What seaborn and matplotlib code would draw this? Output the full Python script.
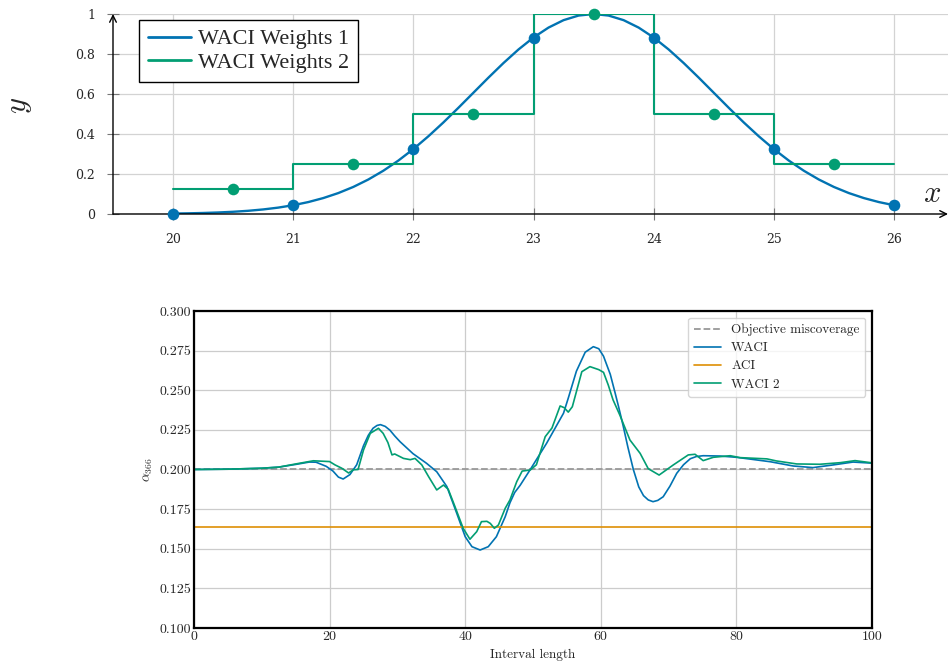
import numpy as np
import matplotlib
matplotlib.use("Agg")
import matplotlib.pyplot as plt
import seaborn as sns

# ---------------- upper panel: the two weighting schemes ----------------
weight_grid_x = np.linspace(20, 26, 49)
weights1_curve = [
    0.0022, 0.0034, 0.0051, 0.0076, 0.0111, 0.0160, 0.0228, 0.0319,
    0.0439, 0.0596, 0.0796, 0.1046, 0.1353, 0.1724, 0.2163, 0.2671,
    0.3247, 0.3886, 0.4578, 0.5311, 0.6065, 0.6819, 0.7548, 0.8226,
    0.8825, 0.9321, 0.9692, 0.9922, 1.0000, 0.9922, 0.9692, 0.9321,
    0.8825, 0.8226, 0.7548, 0.6819, 0.6065, 0.5311, 0.4578, 0.3886,
    0.3247, 0.2671, 0.2163, 0.1724, 0.1353, 0.1046, 0.0796, 0.0596,
    0.0439,
]
weights1_nodes_x = [20, 21, 22, 23, 24, 25, 26]
weights1_nodes_y = [0.0022, 0.0439, 0.3247, 0.8825, 0.8825, 0.3247, 0.0439]

weights2_edges = [20, 21, 22, 23, 24, 25, 26]
weights2_levels = [0.125, 0.25, 0.5, 1.0, 0.5, 0.25]
weights2_nodes_x = [20.5, 21.5, 22.5, 23.5, 24.5, 25.5]

upper_xticks = [20, 21, 22, 23, 24, 25, 26]
upper_yticks = [0, 0.2, 0.4, 0.6, 0.8, 1]
upper_yticklabels = ["0", "0.2", "0.4", "0.6", "0.8", "1"]

# ---------------- lower panel: alpha trajectories ----------------
objective_miscoverage = 0.200
aci_alpha = 0.164

waci_x = [0, 5, 10, 12.5, 15, 17, 18, 19.5, 20.5, 21.3, 22, 23, 24, 25,
          25.7, 26.4, 27.0, 27.5, 28.2, 28.9, 29.6, 30.4, 32.3, 34.3, 35.8,
          37.3, 38.7, 40.0, 41.0, 42.2, 43.4, 44.6, 45.9, 46.6, 47.3, 48.1,
          49.6, 52.0, 54.5, 55.2, 56.4, 57.7, 58.9, 59.7, 60.4, 61.4, 62.1,
          62.6, 63.3, 64.0, 64.8, 65.6, 66.3, 67.0, 67.7, 68.4, 69.2, 70.2,
          71.2, 72.2, 73.2, 74.1, 75.1, 77.6, 80.0, 85.0, 88.4, 91.3, 94.3,
          97.2, 100]
waci_alpha = [0.2000, 0.2002, 0.2008, 0.2015, 0.2032, 0.2047, 0.2046, 0.2020,
              0.1990, 0.1952, 0.1940, 0.1968, 0.2030, 0.2150, 0.2215, 0.2260,
              0.2278, 0.2283, 0.2272, 0.2248, 0.2212, 0.2175, 0.2100, 0.2039,
              0.1986, 0.1892, 0.1730, 0.1576, 0.1513, 0.1492, 0.1513, 0.1576,
              0.1702, 0.1790, 0.1855, 0.1900, 0.2000, 0.2165, 0.2355, 0.2450,
              0.2620, 0.2740, 0.2775, 0.2762, 0.2715, 0.2600, 0.2485, 0.2400,
              0.2275, 0.2140, 0.2000, 0.1890, 0.1835, 0.1808, 0.1797, 0.1805,
              0.1828, 0.1895, 0.1976, 0.2030, 0.2068, 0.2082, 0.2087, 0.2085,
              0.2077, 0.2049, 0.2022, 0.2012, 0.2029, 0.2047, 0.2040]

waci2_x = [0, 5, 10, 12.5, 15, 17.6, 20.0, 20.8, 21.8, 22.8, 23.5, 24.2, 25.0,
           26.0, 27.2, 27.9, 28.6, 29.2, 29.6, 30.9, 31.9, 32.6, 33.6, 34.6,
           35.8, 36.8, 37.5, 38.5, 39.7, 40.7, 41.7, 42.4, 43.2, 43.7, 44.3,
           44.9, 45.9, 46.6, 47.6, 48.4, 49.6, 50.5, 51.8, 52.8, 54.0, 54.6,
           55.2, 55.8, 57.2, 58.4, 59.7, 60.4, 61.1, 61.8, 62.8, 64.3, 65.8,
           67.0, 68.6, 70.7, 72.9, 73.9, 75.1, 76.6, 79.1, 80.5, 84.5, 85.9,
           88.9, 92.3, 95.3, 97.5, 100]
waci2_alpha = [0.2000, 0.2002, 0.2008, 0.2015, 0.2035, 0.2055, 0.2050, 0.2029,
               0.2008, 0.1978, 0.1998, 0.2000, 0.2123, 0.2228, 0.2260, 0.2228,
               0.2170, 0.2092, 0.2098, 0.2070, 0.2062, 0.2070, 0.2029, 0.1955,
               0.1871, 0.1902, 0.1875, 0.1765, 0.1629, 0.1560, 0.1608, 0.1671,
               0.1673, 0.1660, 0.1629, 0.1650, 0.1755, 0.1808, 0.1923, 0.1990,
               0.1997, 0.2030, 0.2207, 0.2262, 0.2401, 0.2390, 0.2362, 0.2396,
               0.2617, 0.2649, 0.2630, 0.2613, 0.2533, 0.2440, 0.2344, 0.2186,
               0.2102, 0.2005, 0.1965, 0.2029, 0.2092, 0.2096, 0.2056, 0.2077,
               0.2087, 0.2075, 0.2067, 0.2054, 0.2035, 0.2033, 0.2043, 0.2056,
               0.2042]

lower_xlim = [0, 100]
lower_xticks = [0, 20, 40, 60, 80, 100]
lower_yticks = [0.100, 0.125, 0.150, 0.175, 0.200, 0.225, 0.250, 0.275, 0.300]

# ---------------- styling ----------------
sns.set_theme(style="whitegrid", palette="colorblind")
plt.rcParams["mathtext.fontset"] = "cm"
pal = sns.color_palette("colorblind")
BLUE, ORANGE, GREEN = pal[0], pal[1], pal[2]

W, H = 948, 661
fig = plt.figure(figsize=(W / 100, H / 100), dpi=100)
fig.patch.set_facecolor("white")

# ===== upper axes =====
ax1 = fig.add_axes([113 / W, (H - 214) / H, (W - 113) / W, 200 / H])
ax1.set_facecolor("white")
sns.lineplot(x=weight_grid_x, y=weights1_curve, ax=ax1, color=BLUE,
             lw=1.7, label="WACI Weights 1", sort=False)
sns.lineplot(x=weights2_edges, y=weights2_levels + [weights2_levels[-1]],
             ax=ax1, color=GREEN, lw=1.5, drawstyle="steps-post",
             label="WACI Weights 2", sort=False)
sns.scatterplot(x=weights1_nodes_x, y=weights1_nodes_y, ax=ax1, color=BLUE,
                s=70, linewidth=0, zorder=4, clip_on=False, legend=False)
sns.scatterplot(x=weights2_nodes_x, y=weights2_levels, ax=ax1, color=GREEN,
                s=70, linewidth=0, zorder=4, clip_on=False, legend=False)

ax1.set_xlim(19.5, 26.45)
ax1.set_ylim(0, 1)
ax1.set_xticks(upper_xticks)
ax1.set_xticklabels([str(t) for t in upper_xticks], family="DejaVu Serif",
                    fontsize=9)
ax1.set_yticks(upper_yticks)
ax1.set_yticklabels(upper_yticklabels, family="DejaVu Serif", fontsize=9)
ax1.tick_params(axis="both", direction="inout", length=8, width=0.8,
                color="#777777", bottom=True, left=True)
ax1.tick_params(axis="x", pad=10)
ax1.tick_params(axis="y", pad=9)
ax1.grid(True, color="#d3d3d3", lw=0.9)
for side in ["top", "right", "left", "bottom"]:
    ax1.spines[side].set_visible(False)
ax1.set_xlabel("")
ax1.set_ylabel("")

# axis lines with arrow heads
ax1.annotate("", xy=(1.0, 0), xytext=(0, 0), xycoords="axes fraction",
             arrowprops=dict(arrowstyle="->", color="black", lw=1.0,
                             shrinkA=0, shrinkB=0), annotation_clip=False)
ax1.annotate("", xy=(0, 1.0), xytext=(0, 0), xycoords="axes fraction",
             arrowprops=dict(arrowstyle="->", color="black", lw=1.0,
                             shrinkA=0, shrinkB=0), annotation_clip=False)

leg1 = ax1.legend(loc="upper left",
                  bbox_to_anchor=((139 - 113) / 835, (214 - 20) / 200),
                  borderaxespad=0, frameon=True, fancybox=False,
                  edgecolor="black", framealpha=1,
                  prop={"family": "Liberation Serif", "size": 16},
                  handlelength=1.95, handletextpad=0.3, labelspacing=0.12,
                  borderpad=0.4)
leg1.get_frame().set_linewidth(1.0)
for line in leg1.get_lines():
    line.set_linewidth(2.0)

fig.text(20 / W, 1 - 105 / H, "$y$", rotation=90, fontsize=22,
         ha="center", va="center")
fig.text(932 / W, 1 - 193 / H, "$x$", fontsize=22, ha="center", va="center")

# ===== lower axes =====
ax2 = fig.add_axes([194 / W, (H - 628) / H, 678 / W, 317 / H])
ax2.set_facecolor("white")
ax2.axhline(objective_miscoverage, color="#999999", lw=1.3, ls="--",
            label="Objective miscoverage", zorder=2)
sns.lineplot(x=waci_x, y=waci_alpha, ax=ax2, color=BLUE, lw=1.2,
             label="WACI", sort=False)
sns.lineplot(x=lower_xlim, y=[aci_alpha, aci_alpha], ax=ax2, color=ORANGE,
             lw=1.2, label="ACI", sort=False)
sns.lineplot(x=waci2_x, y=waci2_alpha, ax=ax2, color=GREEN, lw=1.2,
             label="WACI 2", sort=False)

ax2.set_xlim(*lower_xlim)
ax2.set_ylim(0.1, 0.3)
ax2.set_xticks(lower_xticks)
ax2.set_xticklabels([str(t) for t in lower_xticks], family="cmr10", fontsize=10)
ax2.set_yticks(lower_yticks)
ax2.set_yticklabels([f"{t:.3f}" for t in lower_yticks], family="cmr10",
                    fontsize=10)
ax2.tick_params(axis="both", length=0, pad=2)
ax2.grid(True, color="#cccccc", lw=0.9)
for side in ["top", "right", "left", "bottom"]:
    ax2.spines[side].set_visible(True)
    ax2.spines[side].set_color("black")
    ax2.spines[side].set_linewidth(1.6)
ax2.set_xlabel("Interval length", family="cmr10", fontsize=9.5, labelpad=4)
ax2.set_ylabel(r"$\alpha_{366}$", fontsize=10, labelpad=3)

leg2 = ax2.legend(loc="upper right", frameon=True, fancybox=True,
                  edgecolor="#cccccc", framealpha=0.8,
                  prop={"family": "cmr10", "size": 9.5},
                  handlelength=2.0, labelspacing=0.45, borderpad=0.45)

fig.savefig("out.png", dpi=100, facecolor="white")
